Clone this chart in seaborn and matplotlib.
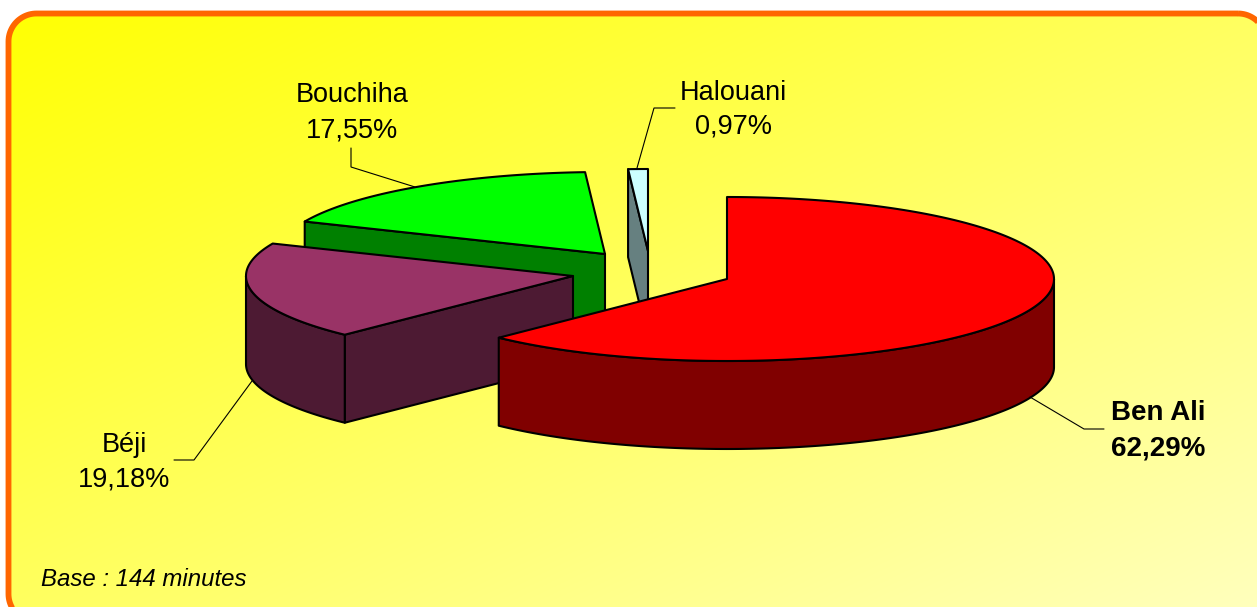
import numpy as np
import matplotlib
matplotlib.use("Agg")
import matplotlib.pyplot as plt
from matplotlib.patches import Polygon
import seaborn as sns

# --- data ---
names = ["Ben Ali", "Béji", "Bouchiha", "Halouani"]
shares = [62.29, 19.18, 17.55, 0.97]
share_labels = ["62,29%", "19,18%", "17,55%", "0,97%"]
note = "Base : 144 minutes"

# --- styles ---
top_colors = sns.color_palette(["#FF0000", "#993366", "#00FF00", "#CCFFFF"])
side_colors = sns.color_palette(["#800000", "#4D1A33", "#008000", "#668080"])
apex = [(727, 279), (573, 276), (605, 254), (648, 251)]
RX, RY, DEPTH = 327, 82, 88
label_pos = [(1158, 413.5, 448.5), (124, 445.5, 479.5), (352, 95, 130.5), (733, 93.5, 126.5)]
leaders = [[(1030, 397), (1084, 429), (1104, 429)],
           [(252, 381), (194, 460), (174, 460)],
           [(351, 148), (351, 167), (415, 187)],
           [(637, 168), (654, 108), (675, 108)]]
draw_order = [2, 3, 1, 0]

sns.set_theme(style="white")
plt.rcParams["font.family"] = ["Liberation Sans", "DejaVu Sans"]

W, H = 1257, 607
fig = plt.figure(figsize=(W / 100, H / 100), dpi=100, facecolor="white")
ax = fig.add_axes([0, 0, 1, 1])
ax.axis("off")


def rounded_outline(x0, y0, x1, y1, r):
    corners = [(x1 - r, y0 + r, -90), (x1 - r, y1 - r, 0), (x0 + r, y1 - r, 90), (x0 + r, y0 + r, 180)]
    pts = []
    for cx, cy, start in corners:
        a = np.radians(np.linspace(start, start + 90, 24))
        pts.append(np.column_stack([cx + r * np.cos(a), cy + r * np.sin(a)]))
    return np.vstack(pts)


# panel with diagonal gradient
yy, xx = np.mgrid[0:1:300j, 0:1:600j]
t = (xx + yy) / 2
grad = np.dstack([np.ones_like(t), np.ones_like(t), t * 0.74])
im = ax.imshow(grad, extent=(0, W, H, 0), aspect="auto", zorder=1)
ax.set_xlim(0, W)
ax.set_ylim(H, 0)
frame = Polygon(rounded_outline(8.5, 13.5, 1266, 622, 28), closed=True, fc="none",
                ec="#FF6600", lw=4.2, zorder=2)
ax.add_patch(frame)
im.set_clip_path(frame)

# slices: angles are measured clockwise from 12 o'clock
edges = np.cumsum([0] + shares) / sum(shares) * 2 * np.pi


def arc(cx, cy, a0, a1):
    n = max(int(np.degrees(a1 - a0)) * 2, 2)
    a = np.linspace(a0, a1, n)
    return np.column_stack([cx + RX * np.sin(a), cy - RY * np.cos(a)])


for order, i in enumerate(draw_order):
    cx, cy = apex[i]
    a0, a1 = edges[i], edges[i + 1]
    style = dict(ec="black", lw=1.5, joinstyle="round", zorder=3 + order)
    # cut faces that look towards the viewer
    if np.sin(a0) < -1e-9:
        p = (cx + RX * np.sin(a0), cy - RY * np.cos(a0))
        face = [p, (cx, cy), (cx, cy + DEPTH), (p[0], p[1] + DEPTH)]
        ax.add_patch(Polygon(face, fc=side_colors[i], **style))
    # outer wall, front half only
    w0, w1 = max(a0, np.pi / 2), min(a1, 3 * np.pi / 2)
    if w1 > w0:
        rim = arc(cx, cy, w0, w1)
        wall = np.vstack([rim, (rim + [0, DEPTH])[::-1]])
        ax.add_patch(Polygon(wall, fc=side_colors[i], **style))
    # top face
    top = np.vstack([[(cx, cy)], arc(cx, cy, a0, a1)])
    ax.add_patch(Polygon(top, fc=top_colors[i], **style))

# labels
for i, name in enumerate(names):
    x, y1, y2 = label_pos[i]
    bold = i == 0
    kw = dict(ha="center", va="center", fontsize=20 if bold else 19.5, color="black",
              fontweight="bold" if bold else "normal", zorder=10)
    ax.text(x, y1, name, **kw)
    ax.text(x, y2, share_labels[i], **kw)
    xs, ys = zip(*leaders[i])
    ax.plot(xs, ys, color="black", lw=0.8, zorder=9, solid_joinstyle="miter")

ax.text(41, 579, note, ha="left", va="center", fontsize=17.25, style="italic",
        color="black", zorder=10)

sns.despine(ax=ax, left=True, bottom=True)
fig.savefig("out.png", dpi=100, facecolor="white")
